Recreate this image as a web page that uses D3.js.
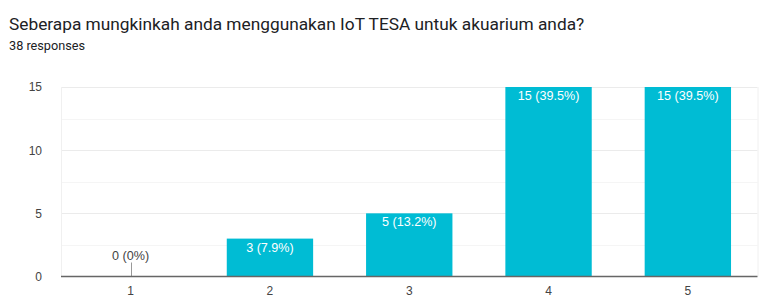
<!DOCTYPE html>
<html>
<head>
<meta charset="utf-8">
<script src="https://cdn.jsdelivr.net/npm/d3@7"></script>
<style>
  body { margin: 0; background: #fff; }
  svg { display: block; }
</style>
</head>
<body>
<div id="chart"></div>
<script>
// Chart data
var categories = ['1', '2', '3', '4', '5'];
var counts = [0, 3, 5, 15, 15];
var labels = ['0 (0%)', '3 (7.9%)', '5 (13.2%)', '15 (39.5%)', '15 (39.5%)'];
var yTicks = [0, 5, 10, 15];
var yMinorTicks = [2.5, 7.5, 12.5];

var svgWidth = 761;
var svgHeight = 304;

var margin = { top: 87, right: 3.5, bottom: 27.5, left: 61 };
var chartWidth = svgWidth - margin.left - margin.right;
var chartHeight = svgHeight - margin.top - margin.bottom;

var svg = d3.select('#chart')
  .append('svg')
  .attr('width', svgWidth)
  .attr('height', svgHeight);

// Title and subtitle
svg.append('text')
  .attr('x', 9)
  .attr('y', 30)
  .attr('font-family', 'Roboto')
  .attr('font-size', 17.3)
  .attr('fill', '#202124')
  .text('Seberapa mungkinkah anda menggunakan IoT TESA untuk akuarium anda?');

svg.append('text')
  .attr('x', 9)
  .attr('y', 49.5)
  .attr('font-family', 'Roboto')
  .attr('font-size', 12.7)
  .attr('fill', '#202124')
  .text('38 responses');

var chartGroup = svg.append('g')
  .attr('transform', `translate(${margin.left}, ${margin.top})`);

var xScale = d3.scaleBand()
  .domain(categories)
  .range([0, chartWidth])
  .paddingInner(0.38)
  .paddingOuter(0.19);

var yScale = d3.scaleLinear()
  .domain([0, 15])
  .range([chartHeight, 0]);

// Minor gridlines
chartGroup.selectAll('.minor')
  .data(yMinorTicks)
  .enter()
  .append('line')
  .attr('x1', 0)
  .attr('x2', chartWidth)
  .attr('y1', d => Math.round(yScale(d)) + 0.5)
  .attr('y2', d => Math.round(yScale(d)) + 0.5)
  .attr('stroke', '#f5f5f5');

// Major gridlines
chartGroup.selectAll('.major')
  .data(yTicks.slice(1))
  .enter()
  .append('line')
  .attr('x1', 0)
  .attr('x2', chartWidth)
  .attr('y1', d => Math.round(yScale(d)) + 0.5)
  .attr('y2', d => Math.round(yScale(d)) + 0.5)
  .attr('stroke', '#ebebeb');

// Faint side borders
chartGroup.selectAll('.side')
  .data([0, chartWidth])
  .enter()
  .append('line')
  .attr('x1', d => d + 0.5)
  .attr('x2', d => d + 0.5)
  .attr('y1', 0)
  .attr('y2', chartHeight)
  .attr('stroke', '#f0f0f0');

// Y axis labels
var yAxis = d3.axisLeft(yScale).tickValues(yTicks).tickSize(0).tickPadding(19);
var yAxisGroup = chartGroup.append('g').call(yAxis);
yAxisGroup.select('.domain').remove();
yAxisGroup.selectAll('text')
  .attr('font-family', 'Liberation Sans, Arial')
  .attr('font-size', 12)
  .attr('fill', '#444');

// Bars
chartGroup.selectAll('.bar')
  .data(counts)
  .enter()
  .append('rect')
  .attr('x', (d, i) => xScale(categories[i]))
  .attr('y', d => yScale(d))
  .attr('width', xScale.bandwidth())
  .attr('height', d => chartHeight - yScale(d))
  .attr('fill', '#00bcd4');

// Small marker for zero bars
chartGroup.selectAll('.zero')
  .data(counts.map((d, i) => ({ v: d, c: categories[i] })).filter(d => d.v === 0))
  .enter()
  .append('line')
  .attr('x1', d => Math.round(xScale(d.c) + xScale.bandwidth() / 2) + 0.5)
  .attr('x2', d => Math.round(xScale(d.c) + xScale.bandwidth() / 2) + 0.5)
  .attr('y1', chartHeight - 14)
  .attr('y2', chartHeight)
  .attr('stroke', '#999');

// Bar labels
chartGroup.selectAll('.lbl')
  .data(counts)
  .enter()
  .append('text')
  .attr('x', (d, i) => xScale(categories[i]) + xScale.bandwidth() / 2)
  .attr('y', d => d === 0 ? chartHeight - 17 : yScale(d) + 13)
  .attr('text-anchor', 'middle')
  .attr('font-family', 'Liberation Sans, Arial')
  .attr('font-size', 12.6)
  .attr('fill', d => d === 0 ? '#444' : '#fff')
  .text((d, i) => labels[i]);

// X axis
var xAxis = d3.axisBottom(xScale).tickSize(0).tickPadding(10);
var xAxisGroup = chartGroup.append('g')
  .attr('transform', `translate(0, ${chartHeight})`)
  .call(xAxis);
xAxisGroup.select('.domain').remove();
xAxisGroup.selectAll('text')
  .attr('font-family', 'Liberation Sans, Arial')
  .attr('font-size', 12)
  .attr('fill', '#444');

// Baseline
chartGroup.append('line')
  .attr('x1', 0)
  .attr('x2', chartWidth)
  .attr('y1', chartHeight)
  .attr('y2', chartHeight)
  .attr('stroke', '#666')
  .attr('stroke-width', 1.5);
</script>
</body>
</html>
